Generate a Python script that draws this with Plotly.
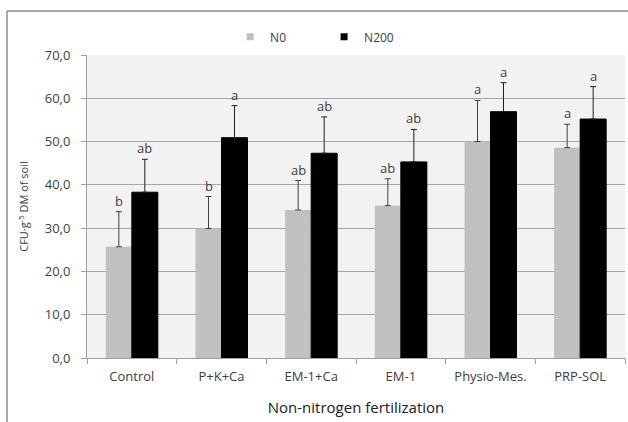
import plotly.graph_objects as go

categories = ["Control", "P+K+Ca", "EM-1+Ca", "EM-1", "Physio-Mes.", "PRP-SOL"]
n0_values = [25.7, 29.9, 34.2, 35.2, 50.0, 48.6]
n0_errors = [8.1, 7.4, 6.8, 6.2, 9.5, 5.4]
n200_values = [38.3, 50.9, 47.3, 45.3, 56.9, 55.2]
n200_errors = [7.6, 7.4, 8.4, 7.5, 6.7, 7.5]
n0_letters = ["b", "b", "ab", "ab", "a", "a"]
n200_letters = ["ab", "a", "ab", "ab", "a", "a"]
y_ticks = [0, 10, 20, 30, 40, 50, 60, 70]

FONT = "'Open Sans', Lato, sans-serif"
TXT = "#404040"
C_N0 = "#C0C0C0"
C_N200 = "#000000"

fig = go.Figure()
fig.add_trace(go.Bar(
    name="N0", x=categories, y=n0_values, showlegend=False, legendgroup="n0",
    marker=dict(color=C_N0, line=dict(width=0)),
    error_y=dict(type="data", symmetric=False, array=n0_errors,
                 arrayminus=[0] * len(n0_errors), color="#404040",
                 thickness=1, width=3),
))
fig.add_trace(go.Bar(
    name="N200", x=categories, y=n200_values, showlegend=False, legendgroup="n200",
    marker=dict(color=C_N200, line=dict(width=1, color="#000000")),
    error_y=dict(type="data", symmetric=False, array=n200_errors,
                 arrayminus=[0] * len(n200_errors), color="#202020",
                 thickness=1, width=3),
))
# legend entries with small square keys
for name, col, grp in [("N0", C_N0, "n0"), ("N200", C_N200, "n200")]:
    fig.add_trace(go.Scatter(
        name=name, x=[categories[0]], y=[None], mode="markers", legendgroup=grp,
        marker=dict(symbol="square", size=7, color=col), hoverinfo="skip",
    ))

annotations = []
for c, v, e, t in zip(categories, n0_values, n0_errors, n0_letters):
    annotations.append(dict(x=c, y=v + e, text=t, showarrow=False, xshift=-13,
                            yanchor="bottom", yshift=0,
                            font=dict(size=13, color=TXT, family=FONT)))
for c, v, e, t in zip(categories, n200_values, n200_errors, n200_letters):
    annotations.append(dict(x=c, y=v + e, text=t, showarrow=False, xshift=13,
                            yanchor="bottom", yshift=0,
                            font=dict(size=13, color=TXT, family=FONT)))

fig.update_layout(
    width=628, height=422,
    margin=dict(l=87, r=3, t=55, b=64, autoexpand=False),
    paper_bgcolor="white",
    plot_bgcolor="#F2F2F2",
    separators=",.",
    barmode="group", bargap=0.42, bargroupgap=0,
    font=dict(family=FONT, color=TXT, size=13),
    showlegend=True,
    legend=dict(orientation="h", x=0.266, y=1.06, xanchor="left", yanchor="middle",
                font=dict(size=12, color=TXT, family=FONT), itemsizing="trace",
                entrywidth=49, entrywidthmode="pixels", bgcolor="rgba(0,0,0,0)"),
    annotations=annotations,
    xaxis=dict(
        automargin=False,
        showline=True, linecolor="#A0A0A0", linewidth=1,
        ticks="outside", ticklen=5, tickcolor="#A0A0A0", tickson="boundaries",
        ticklabelstandoff=6,
        tickfont=dict(size=13, color=TXT),
        title=dict(text="Non-nitrogen fertilization", font=dict(size=15, color="#202020"),
                   standoff=18),
    ),
    yaxis=dict(
        automargin=False,
        range=[0, 70], tickvals=y_ticks, tickformat=".1f",
        showline=True, linecolor="#A0A0A0", linewidth=1,
        ticks="outside", ticklen=5, tickcolor="#A0A0A0",
        ticklabelstandoff=8,
        showgrid=True, gridcolor="#A6A6A6", gridwidth=1,
        zeroline=False,
        tickfont=dict(size=13, color=TXT),
        title=dict(text="CFU·g<sup>-5</sup> DM of soil", font=dict(size=11, color=TXT),
                   standoff=13),
    ),
    shapes=[
        dict(type="line", xref="paper", yref="paper", x0=-0.1487, x1=1.01, y0=1.1452, y1=1.1452,
             line=dict(color="#8C8C8C", width=1.5)),
        dict(type="line", xref="paper", yref="paper", x0=-0.1487, x1=-0.1487, y0=1.1452, y1=-0.25,
             line=dict(color="#8C8C8C", width=1.5)),
    ],
)

fig.write_html("out.html", config={"displayModeBar": False},
               post_script="document.body.style.margin='0';")
